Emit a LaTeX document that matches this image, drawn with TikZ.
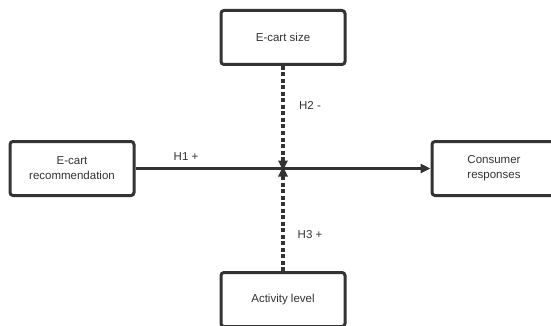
\documentclass[tikz,border=0pt]{standalone}
\usepackage{fontspec}
\setmainfont{Liberation Sans}
\usetikzlibrary{arrows.meta}
\definecolor{ink}{HTML}{333333}
\begin{document}
\begin{tikzpicture}[x=1pt,y=-1pt,
  box/.style={draw=ink,line width=3pt,rounded corners=3pt,fill=white,minimum width=124pt,minimum height=54pt,align=center,inner sep=0pt,font=\fontsize{11.5}{15}\selectfont,text=ink},
  lbl/.style={font=\fontsize{11.5}{13}\selectfont,text=ink,inner sep=0pt},
  conn/.style={draw=ink,line width=2.8pt,-{Triangle[length=10pt,width=9pt]}},
  dconn/.style={draw=ink,line width=3.4pt,dash pattern=on 4pt off 2.5pt,-{Triangle[length=10pt,width=9pt]}}]
\useasboundingbox (0,0) rectangle (551,326);
\begin{scope}
\clip (0,0) rectangle (551,326);
\node[box] (rec) at (72,168.5) {E-cart\\recommendation};
\node[box] (size) at (283,37.5) {E-cart size};
\node[box] (act) at (283,299.5) {Activity level};
\node[box] (resp) at (494,168.5) {Consumer\\responses};
\coordinate (mid) at (283,168.5);
\draw[conn] (rec.east) -- (resp.west);
\draw[dconn] (size.south) -- ([yshift=-2pt]mid);
\draw[dconn] (act.north) -- ([yshift=2pt]mid);
\node[lbl] (h1) at (186,157) {H1 +};
\node[lbl] (h2) at (310,105) {H2 -};
\node[lbl] (h3) at (310,235) {H3 +};
\end{scope}
\end{tikzpicture}
\end{document}
